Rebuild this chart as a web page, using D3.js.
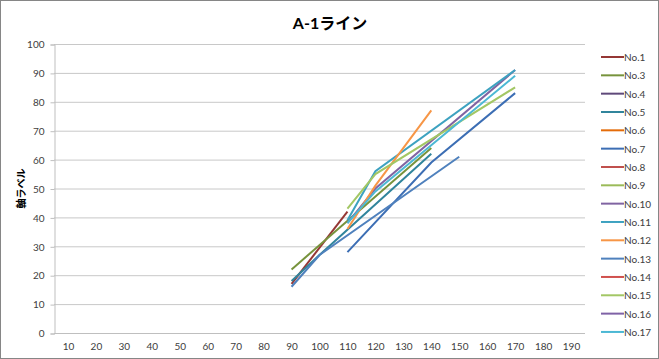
<!DOCTYPE html>
<html>
<head>
<meta charset="utf-8">
<script src="https://cdn.jsdelivr.net/npm/d3@7"></script>
<style>
  body { margin: 0; background: #fff; }
  text { font-family: Lato, "Noto Sans CJK JP", sans-serif; }
</style>
</head>
<body>
<script>
// categories on the x axis
var categories = [10, 20, 30, 40, 50, 60, 70, 80, 90, 100, 110, 120, 130, 140, 150, 160, 170, 180, 190];
var yTicks = [0, 10, 20, 30, 40, 50, 60, 70, 80, 90, 100];

// series names and colours
var names  = ["No.1", "No.3", "No.4", "No.5", "No.6", "No.7", "No.8", "No.9",
              "No.10", "No.11", "No.12", "No.13", "No.14", "No.15", "No.16", "No.17"];
var colors = ["#953735", "#77933C", "#5F497A", "#31859C", "#E46C0A", "#3C6EB4", "#C0504D", "#9BBB59",
              "#8064A2", "#3DA2C0", "#F79646", "#4F81BD", "#D0504D", "#A3C765", "#7F62A6", "#4BB8D4"];

// values per series: [category, value]
var s1  = [[90, 17], [110, 42]];
var s3  = [[90, 22], [140, 64]];
var s4  = [];
var s5  = [[90, 18], [100, 27], [140, 62]];
var s6  = [];
var s7  = [[110, 28], [140, 59], [170, 83]];
var s8  = [];
var s9  = [];
var s10 = [[110, 38], [120, 50], [170, 91]];
var s11 = [[110, 39], [120, 56], [170, 91]];
var s12 = [[110, 36], [120, 51], [140, 77]];
var s13 = [[90, 16], [100, 27], [150, 61]];
var s14 = [];
var s15 = [[110, 43], [120, 55], [170, 85]];
var s16 = [];
var s17 = [[110, 38], [120, 49], [170, 89]];

var values = [s1, s3, s4, s5, s6, s7, s8, s9, s10, s11, s12, s13, s14, s15, s16, s17];

var W = 659, H = 359;
var plot = {left: 54, right: 585, top: 44, bottom: 333};

var svg = d3.select("body").append("svg")
    .attr("width", W)
    .attr("height", H);

// chart border
svg.append("rect")
    .attr("x", 0.5).attr("y", 0.5)
    .attr("width", W - 1).attr("height", H - 1)
    .attr("fill", "#fff")
    .attr("stroke", "#868686");

// scales
var x = d3.scalePoint().domain(categories).range([plot.left, plot.right]).padding(0.5);
var y = d3.scaleLinear().domain([0, 100]).range([plot.bottom, plot.top]);

// gridlines
svg.append("g")
  .selectAll("line")
  .data(yTicks.slice(1))
  .enter().append("line")
    .attr("x1", plot.left).attr("x2", plot.right)
    .attr("y1", function(d) { return y(d) + 0.5; })
    .attr("y2", function(d) { return y(d) + 0.5; })
    .attr("stroke", "#C8C8C8");

// y axis
var yAxis = svg.append("g")
    .attr("transform", "translate(" + (plot.left + 0.5) + ",0.5)")
    .call(d3.axisLeft(y).tickValues(yTicks).tickSize(4).tickPadding(6));
yAxis.select(".domain").attr("stroke", "#BFBFBF");
yAxis.selectAll(".tick line").attr("stroke", "#BFBFBF");
yAxis.selectAll("text").attr("font-size", 10).attr("fill", "#404040");

// x axis
var xAxis = svg.append("g")
    .attr("transform", "translate(0," + (plot.bottom + 0.5) + ")")
    .call(d3.axisBottom(x).tickSize(0).tickPadding(9));
xAxis.select(".domain").attr("stroke", "#BFBFBF")
    .attr("d", "M" + plot.left + ",0H" + plot.right);
xAxis.selectAll("text").attr("font-size", 10).attr("fill", "#404040");

// lines
var line = d3.line()
    .x(function(d) { return x(d[0]); })
    .y(function(d) { return y(d[1]); });

svg.append("g")
  .selectAll("path")
  .data(values)
  .enter().append("path")
    .attr("d", function(d) { return d.length ? line(d) : null; })
    .attr("fill", "none")
    .attr("stroke", function(d, i) { return colors[i]; })
    .attr("stroke-width", 2);

// title
svg.append("text")
    .attr("x", 330).attr("y", 29)
    .attr("text-anchor", "middle")
    .attr("font-size", 16)
    .attr("font-weight", "bold")
    .attr("font-family", "'Noto Sans CJK JP', sans-serif")
    .attr("fill", "#000")
    .text("A-1ライン");

// y axis title
svg.append("text")
    .attr("transform", "translate(25," + ((plot.top + plot.bottom) / 2) + ") rotate(-90)")
    .attr("text-anchor", "middle")
    .attr("font-size", 10)
    .attr("font-weight", "bold")
    .attr("font-family", "'Noto Sans CJK JP', sans-serif")
    .attr("fill", "#000")
    .text("軸ラベル");

// legend
var legend = svg.append("g")
  .selectAll("g")
  .data(names)
  .enter().append("g")
    .attr("transform", function(d, i) { return "translate(601," + (57 + i * 18.33) + ")"; });

legend.append("line")
    .attr("x1", 0).attr("x2", 23)
    .attr("stroke", function(d, i) { return colors[i]; })
    .attr("stroke-width", 2);

legend.append("text")
    .attr("x", 23).attr("y", 4)
    .attr("font-size", 10)
    .attr("fill", "#404040")
    .text(function(d) { return d; });
</script>
</body>
</html>
